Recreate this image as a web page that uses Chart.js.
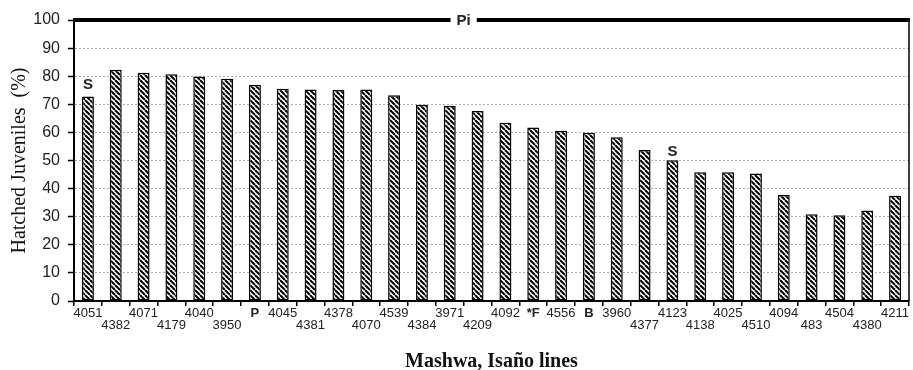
<!DOCTYPE html>
<html>
<head>
<meta charset="utf-8">
<script src="https://cdn.jsdelivr.net/npm/chart.js@4.4.1/dist/chart.umd.min.js"></script>
<style>
  html, body { margin: 0; padding: 0; background: #fff; }
  #wrap { width: 913px; height: 370px; }
</style>
</head>
<body>
<div id="wrap"><canvas id="hatchChart" width="913" height="370"></canvas></div>
<script>
// lines (x axis)
const lines = ['4051', '4382', '4071', '4179', '4040', '3950', 'P', '4045', '4381', '4378',
  '4070', '4539', '4384', '3971', '4209', '4092', '*F', '4556', 'B', '3960',
  '4377', '4123', '4138', '4025', '4510', '4094', '483', '4504', '4380', '4211'];
// which row the tick label sits in (0 = upper, 1 = lower)
const labelRow = [0, 1, 0, 1, 0, 1, 0, 0, 1, 0,
  1, 0, 1, 0, 1, 0, 0, 0, 0, 0,
  1, 0, 1, 0, 1, 0, 1, 0, 1, 0];
// % hatched juveniles
const hatched = [72.8, 82.3, 81.2, 80.7, 79.9, 79.1, 77.0, 75.5, 75.3, 75.1,
  75.3, 73.2, 69.8, 69.5, 67.6, 63.4, 61.7, 60.6, 59.9, 58.3,
  53.7, 50.1, 45.8, 45.8, 45.4, 37.7, 30.9, 30.5, 32.2, 37.5];
const parentLines = ['P', '*F', 'B'];
// small letters written over some bars
const markIndex = [0, 21];
const markText = ['S', 'S'];
const markValue = [77, 53];
// band label across the top (sits between these two bars)
const bandText = 'Pi';
const bandBetween = [13, 14];
const bandValue = 100;

const yTicks = [0, 10, 20, 30, 40, 50, 60, 70, 80, 90, 100];

const makeHatch = () => {
  const n = 5;
  const c = document.createElement('canvas');
  c.width = n; c.height = n;
  const g = c.getContext('2d');
  g.fillStyle = '#fff';
  g.fillRect(0, 0, n, n);
  g.strokeStyle = '#000';
  g.lineWidth = 2;
  [-n, 0, n].forEach(x0 => {
    g.beginPath();
    g.moveTo(x0, 0);
    g.lineTo(x0 + n, n);
    g.stroke();
  });
  return g.createPattern(c, 'repeat');
};

const extras = {
  id: 'extras',
  afterDatasetsDraw(chart) {
    const { ctx, chartArea } = chart;
    const x = chart.scales.x;
    const y = chart.scales.y;
    ctx.save();
    // right frame line
    ctx.strokeStyle = '#000';
    ctx.lineWidth = 1.5;
    ctx.beginPath();
    ctx.moveTo(chartArea.right, chartArea.top);
    ctx.lineTo(chartArea.right, chartArea.bottom);
    ctx.stroke();
    // thick band line at the top
    const by = y.getPixelForValue(bandValue);
    ctx.lineWidth = 4;
    ctx.beginPath();
    ctx.moveTo(chartArea.left - 1, by);
    ctx.lineTo(chartArea.right + 1, by);
    ctx.stroke();
    // band label with white gap
    const bx = (x.getPixelForValue(bandBetween[0]) + x.getPixelForValue(bandBetween[1])) / 2;
    ctx.font = 'bold 15px "Liberation Sans", Arial, sans-serif';
    ctx.textAlign = 'center';
    ctx.textBaseline = 'middle';
    const w = ctx.measureText(bandText).width + 12;
    ctx.fillStyle = '#fff';
    ctx.fillRect(bx - w / 2, by - 4, w, 8);
    ctx.fillStyle = '#222';
    ctx.fillText(bandText, bx, by + 1);
    // S marks
    markIndex.forEach((idx, i) => {
      ctx.fillText(markText[i], x.getPixelForValue(idx), y.getPixelForValue(markValue[i]));
    });
    ctx.restore();
  }
};

document.addEventListener('DOMContentLoaded', () => {
  const ctx = document.getElementById('hatchChart').getContext('2d');

  new Chart(ctx, {
    type: 'bar',
    data: {
      labels: lines.map((l, i) => (labelRow[i] === 0 ? [l] : ['', l])),
      datasets: [{
        label: 'Hatched Juveniles (%)',
        data: hatched,
        backgroundColor: makeHatch(),
        borderColor: '#000',
        borderWidth: 1.5,
        borderSkipped: false,
        categoryPercentage: 1,
        barPercentage: 0.43
      }]
    },
    plugins: [extras],
    options: {
      responsive: false,
      animation: false,
      devicePixelRatio: 1,
      layout: { padding: { top: 20, right: 4, left: 0, bottom: 0 } },
      plugins: {
        legend: { display: false },
        tooltip: { enabled: false }
      },
      scales: {
        x: {
          afterFit: s => { s.height = 69; },
          grid: {
            display: true,
            offset: true,
            drawOnChartArea: false,
            drawTicks: true,
            tickLength: 5,
            color: '#000',
            lineWidth: 1.5
          },
          border: { display: true, color: '#000', width: 2 },
          ticks: {
            autoSkip: false,
            maxRotation: 0,
            minRotation: 0,
            padding: 1,
            color: '#222',
            font: c => {
              const lbl = lines[c.index];
              return {
                family: '"Liberation Sans", Arial, sans-serif',
                size: 13,
                lineHeight: 0.96,
                weight: parentLines.includes(lbl) ? 'bold' : 'normal'
              };
            }
          },
          title: {
            display: true,
            text: 'Mashwa, Isaño lines',
            color: '#111',
            font: { family: '"Liberation Serif", "Times New Roman", serif', size: 20, weight: 'bold', lineHeight: 0.8 },
            padding: { top: 0, bottom: 0 }
          }
        },
        y: {
          min: 0,
          max: 100,
          afterFit: s => { s.width = 74; },
          afterBuildTicks: s => { s.ticks = yTicks.map(v => ({ value: v })); },
          grid: {
            color: c => (c.tick && (c.tick.value === 0 || c.tick.value === 100) ? 'rgba(0,0,0,0)' : '#b0b0b0'),
            lineWidth: 1,
            tickColor: '#000',
            tickLength: 6,
            tickWidth: 1.5
          },
          border: { display: true, color: '#000', width: 2, dash: [2, 2] },
          ticks: {
            padding: 8,
            color: '#222',
            font: { family: '"Liberation Sans", Arial, sans-serif', size: 16 }
          },
          title: {
            display: true,
            text: 'Hatched Juveniles  (%)',
            color: '#111',
            font: { family: '"Liberation Serif", "Times New Roman", serif', size: 20, lineHeight: 1 },
            padding: { top: 10, bottom: 0 }
          }
        }
      }
    }
  });
});
</script>
</body>
</html>
